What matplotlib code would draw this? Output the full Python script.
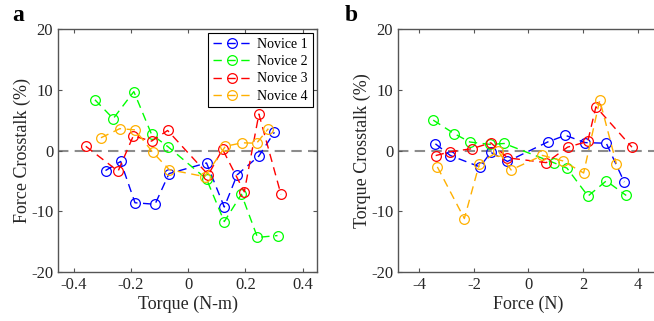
import numpy as np
import matplotlib
matplotlib.use("Agg")
import matplotlib.pyplot as plt

plt.rcParams['font.family'] = ['Liberation Serif', 'DejaVu Serif']
plt.rcParams['axes.unicode_minus'] = False

labels = ["Novice 1", "Novice 2", "Novice 3", "Novice 4"]
colors = ["#0000ff", "#00ff00", "#ff0000", "#ffb000"]

# panel a: torque applied vs force crosstalk
torque_x = [
    [-0.289, -0.236, -0.186, -0.116, -0.067, 0.064, 0.126, 0.171, 0.247, 0.301],
    [-0.326, -0.262, -0.190, -0.128, -0.070, 0.064, 0.126, 0.186, 0.242, 0.312],
    [-0.358, -0.245, -0.192, -0.128, -0.072, 0.070, 0.120, 0.196, 0.247, 0.324],
    [-0.305, -0.239, -0.186, -0.124, -0.066, 0.058, 0.130, 0.189, 0.239, 0.280],
]
force_xtalk = [
    [-3.3, -1.8, -8.6, -8.85, -3.8, -2.05, -9.3, -4.0, -0.9, 3.0],
    [8.35, 5.25, 9.7, 2.65, 0.6, -4.7, -11.7, -7.2, -14.3, -14.0],
    [0.7, -3.4, 2.4, 1.55, 3.3, -4.0, 0.2, -6.8, 6.0, -7.2],
    [2.1, 3.6, 3.4, -0.3, -3.15, -4.3, 0.7, 1.27, 1.2, 3.6],
]

# panel b: force applied vs torque crosstalk
force_x = [
    [-3.41, -2.86, -1.78, -1.38, -0.77, 0.70, 1.35, 2.08, 2.85, 3.51],
    [-3.49, -2.73, -2.15, -1.40, -0.89, 0.92, 1.41, 2.18, 2.85, 3.58],
    [-3.40, -2.86, -2.07, -1.38, -0.77, 0.65, 1.43, 2.17, 2.47, 3.79],
    [-3.34, -2.35, -1.80, -1.11, -0.64, 0.51, 1.25, 2.02, 2.61, 3.22],
]
torque_xtalk = [
    [1.1, -0.83, -2.7, -0.3, -1.8, 1.4, 2.5, 1.3, 1.2, -5.2],
    [5.0, 2.8, 1.4, 1.0, 1.16, -2.0, -2.9, -7.5, -5.0, -7.4],
    [-0.83, -0.2, 0.3, 1.27, -1.2, -2.0, 0.55, 1.5, 7.2, 0.55],
    [-2.7, -11.2, -2.2, -0.1, -3.2, -0.8, -1.7, -3.7, 8.3, -2.2],
]

fig = plt.figure(figsize=(6.54, 3.21), dpi=100)
ax_a = fig.add_axes([0.0887, 0.1526, 0.396, 0.757])
ax_b = fig.add_axes([0.6086, 0.1526, 0.399, 0.757])

text_col = "#262626"
spine_col = "#555555"


def style(ax):
    ax.axhline(0, color="#8c8c8c", lw=1.5, dashes=(5, 3), zorder=1)
    ax.set_ylim(-20, 20)
    ax.set_yticks([-20, -10, 0, 10, 20])
    ax.tick_params(direction="in", top=True, right=True, length=3,
                   labelsize=12, colors=spine_col, labelcolor=text_col, width=0.8)
    for s in ax.spines.values():
        s.set_color(spine_col)
        s.set_linewidth(1.0)


for i in range(4):
    ax_a.plot(torque_x[i], force_xtalk[i], color=colors[i], lw=1, dashes=(6, 4),
              marker="o", ms=7, mfc="none", mew=0.9, label=labels[i], zorder=3)
    ax_b.plot(force_x[i], torque_xtalk[i], color=colors[i], lw=1, dashes=(6, 4),
              marker="o", ms=7, mfc="none", mew=0.9, zorder=3)

style(ax_a)
ax_a.set_xlim(-0.455, 0.45)
ax_a.set_xticks([-0.4, -0.2, 0, 0.2, 0.4])
ax_a.set_xticklabels(["-0.4", "-0.2", "0", "0.2", "0.4"])
ax_a.set_xlabel("Torque (N-m)", fontsize=13, color=text_col, labelpad=2)
ax_a.set_ylabel("Force Crosstalk (%)", fontsize=13, color=text_col, labelpad=0)
leg = ax_a.legend(loc="upper right", fontsize=10, fancybox=False, framealpha=1,
                  edgecolor="black", borderaxespad=0.3, handlelength=2.8,
                  labelspacing=0.3, borderpad=0.35, handletextpad=0.4)
leg.get_frame().set_linewidth(0.8)

style(ax_b)
ax_b.set_xlim(-4.78, 4.78)
ax_b.set_xticks([-4, -2, 0, 2, 4])
ax_b.set_xlabel("Force (N)", fontsize=13, color=text_col, labelpad=2)
ax_b.set_ylabel("Torque Crosstalk (%)", fontsize=13, color=text_col, labelpad=0)

fig.text(0.018, 0.935, "a", fontsize=17, fontweight="bold", color="black")
fig.text(0.527, 0.935, "b", fontsize=17, fontweight="bold", color="black")

fig.savefig("out.png", dpi=100)
